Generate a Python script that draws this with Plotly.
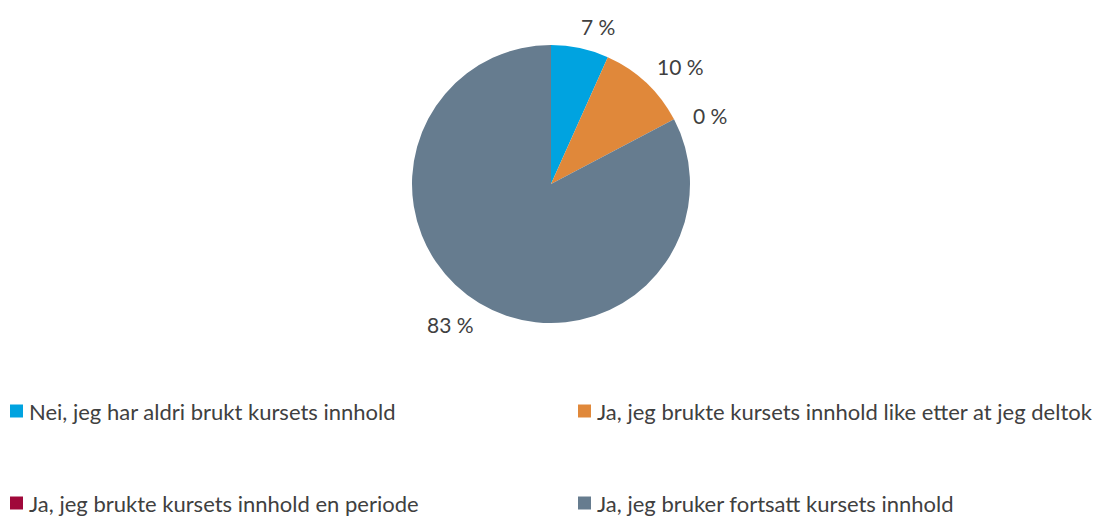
import math
import plotly.graph_objects as go

labels = [
    "Nei, jeg har aldri brukt kursets innhold",
    "Ja, jeg brukte kursets innhold like etter at jeg deltok",
    "Ja, jeg brukte kursets innhold en periode",
    "Ja, jeg bruker fortsatt kursets innhold",
]
values = [6.7, 10.6, 0.0, 82.7]
text_labels = ["7 %", "10 %", "0 %", "83 %"]
colors = ["#00A3E0", "#E0883A", "#A0083A", "#667C8F"]

W, H = 1109, 516
cx, cy, R = 551, 184, 139
FONT = "Lato, Open Sans, sans-serif"
TXT = "#404040"

fig = go.Figure()
fig.add_trace(go.Pie(
    labels=labels, values=values, sort=False, direction="clockwise", rotation=0,
    marker=dict(colors=colors, line=dict(width=0)),
    textinfo="none", hoverinfo="label+percent", showlegend=False,
    domain=dict(x=[(cx - R) / W, (cx + R) / W], y=[1 - (cy + R) / H, 1 - (cy - R) / H]),
))

# data labels placed outside each slice, from cumulative angles
total = sum(values)
cum = 0.0
annotations = []
for v, t in zip(values, text_labels):
    mid = (cum + v / 2) / total * 2 * math.pi + math.radians(4.5)
    cum += v
    s, c = math.sin(mid), math.cos(mid)
    d = R + 15
    hw, hh = 10.5 * len(t) / 2 + 2, 6
    off = abs(s) * hw + abs(c) * hh
    px = cx + (d + off) * s
    py = cy - (d + off) * c
    annotations.append(dict(x=px / W, y=1 - py / H, xref="paper", yref="paper",
                            text=t, showarrow=False, xanchor="center", yanchor="middle",
                            font=dict(family=FONT, size=21, color=TXT)))

# legend: 2 columns x 2 rows
shapes = []
col_x = [10, 578]
row_y = [411, 503]
sq = 13
for i, (lab, col) in enumerate(zip(labels, colors)):
    x0 = col_x[i % 2]
    yc = row_y[i // 2]
    shapes.append(dict(type="rect", xref="paper", yref="paper",
                       x0=x0 / W, x1=(x0 + sq) / W,
                       y0=1 - (yc + sq / 2) / H, y1=1 - (yc - sq / 2) / H,
                       fillcolor=col, line=dict(width=0)))
    annotations.append(dict(x=(x0 + sq + 4) / W, y=1 - yc / H, xref="paper", yref="paper",
                            text=lab, showarrow=False, xanchor="left", yanchor="middle",
                            font=dict(family=FONT, size=22, color=TXT)))

fig.update_layout(
    width=W, height=H, margin=dict(l=0, r=0, t=0, b=0),
    paper_bgcolor="white", plot_bgcolor="white",
    annotations=annotations, shapes=shapes, showlegend=False,
)
fig.write_html("out.html", config={"displayModeBar": False},
               post_script="document.body.style.margin='0';")
